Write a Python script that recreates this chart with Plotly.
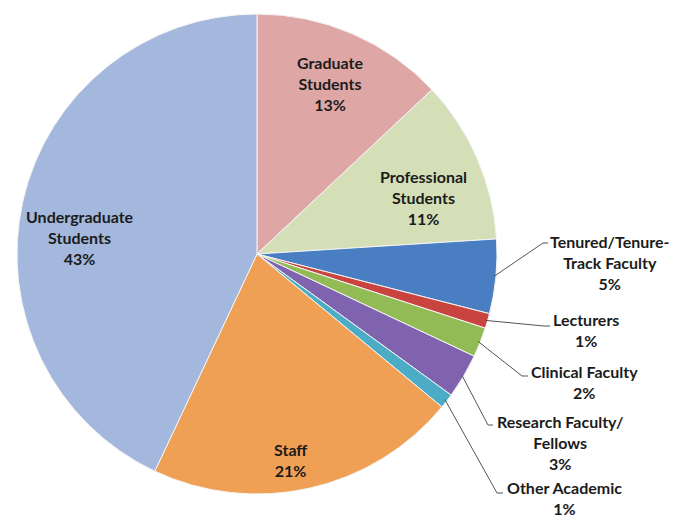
import math
import plotly.graph_objects as go

# ---- data ----
categories = ["Graduate Students", "Professional Students", "Tenured/Tenure-Track Faculty",
              "Lecturers", "Clinical Faculty", "Research Faculty/Fellows", "Other Academic",
              "Staff", "Undergraduate Students"]
values = [13, 11, 5, 1, 2, 3, 1, 21, 43]
label_text = ["Graduate<br>Students", "Professional<br>Students", "Tenured/Tenure-<br>Track Faculty",
              "Lecturers", "Clinical Faculty", "Research Faculty/<br>Fellows", "Other Academic",
              "Staff", "Undergraduate<br>Students"]
colors = ["#DEA7A6", "#D4DFB8", "#4A7EC3", "#C9433F", "#93BB55", "#8063AE", "#4BACC6",
          "#F0A055", "#A3B8DC"]

W, H = 677, 519
CX, CY, R = 257, 254, 240

def px(x, y):
    return x / W, 1 - y / H

fig = go.Figure(go.Pie(
    labels=categories, values=values, sort=False, direction="clockwise", rotation=0,
    marker=dict(colors=colors, line=dict(color="#F4F4F4", width=1)),
    textinfo="none", hoverinfo="label+percent", showlegend=False,
    domain=dict(x=[(CX - R) / W, (CX + R) / W], y=[1 - (CY + R) / H, 1 - (CY - R) / H]),
))

# label placement (layout, pixel coords of text block centres)
label_pos = {
    0: (330, 83), 1: (424, 197), 2: (610, 262), 3: (586, 330), 4: (584, 382),
    5: (560, 442), 6: (564, 498), 7: (290, 460), 8: (80, 238),
}
# leader line elbow/end points for outside labels
leader = {
    2: [(543, 243), (548, 243)],
    3: [(544, 326), (550, 326)],
    4: [(522, 376), (528, 376)],
    5: [(488, 425), (493, 425)],
    6: [(497, 493), (503, 493)],
}

total = sum(values)
cum = 0
annotations = []
shapes = []
for i, v in enumerate(values):
    mid = (cum + v / 2) / total * 2 * math.pi
    cum += v
    pct = round(v / total * 100)
    x, y = label_pos[i]
    ax, ay = px(x, y)
    annotations.append(dict(
        x=ax, y=ay, xref="paper", yref="paper", showarrow=False,
        text=f"{label_text[i]}<br>{pct}%", align="center",
        xanchor="center", yanchor="middle",
        font=dict(family="Lato", size=16, color="#1B1B1B", weight="bold"),
    ))
    if i in leader:
        sx = CX + (R - 2) * math.sin(mid)
        sy = CY - (R - 2) * math.cos(mid)
        pts = [(sx, sy)] + leader[i]
        path = "M " + " L ".join(f"{px(a, b)[0]},{px(a, b)[1]}" for a, b in pts)
        shapes.append(dict(type="path", path=path, xref="paper", yref="paper",
                           line=dict(color="#555555", width=1)))

fig.update_layout(
    width=W, height=H, margin=dict(l=0, r=0, t=0, b=0),
    paper_bgcolor="white", plot_bgcolor="white",
    annotations=annotations, shapes=shapes,
)

fig.write_html("out.html", config={"displayModeBar": False},
               post_script="document.body.style.margin='0';document.body.style.overflow='hidden';")
